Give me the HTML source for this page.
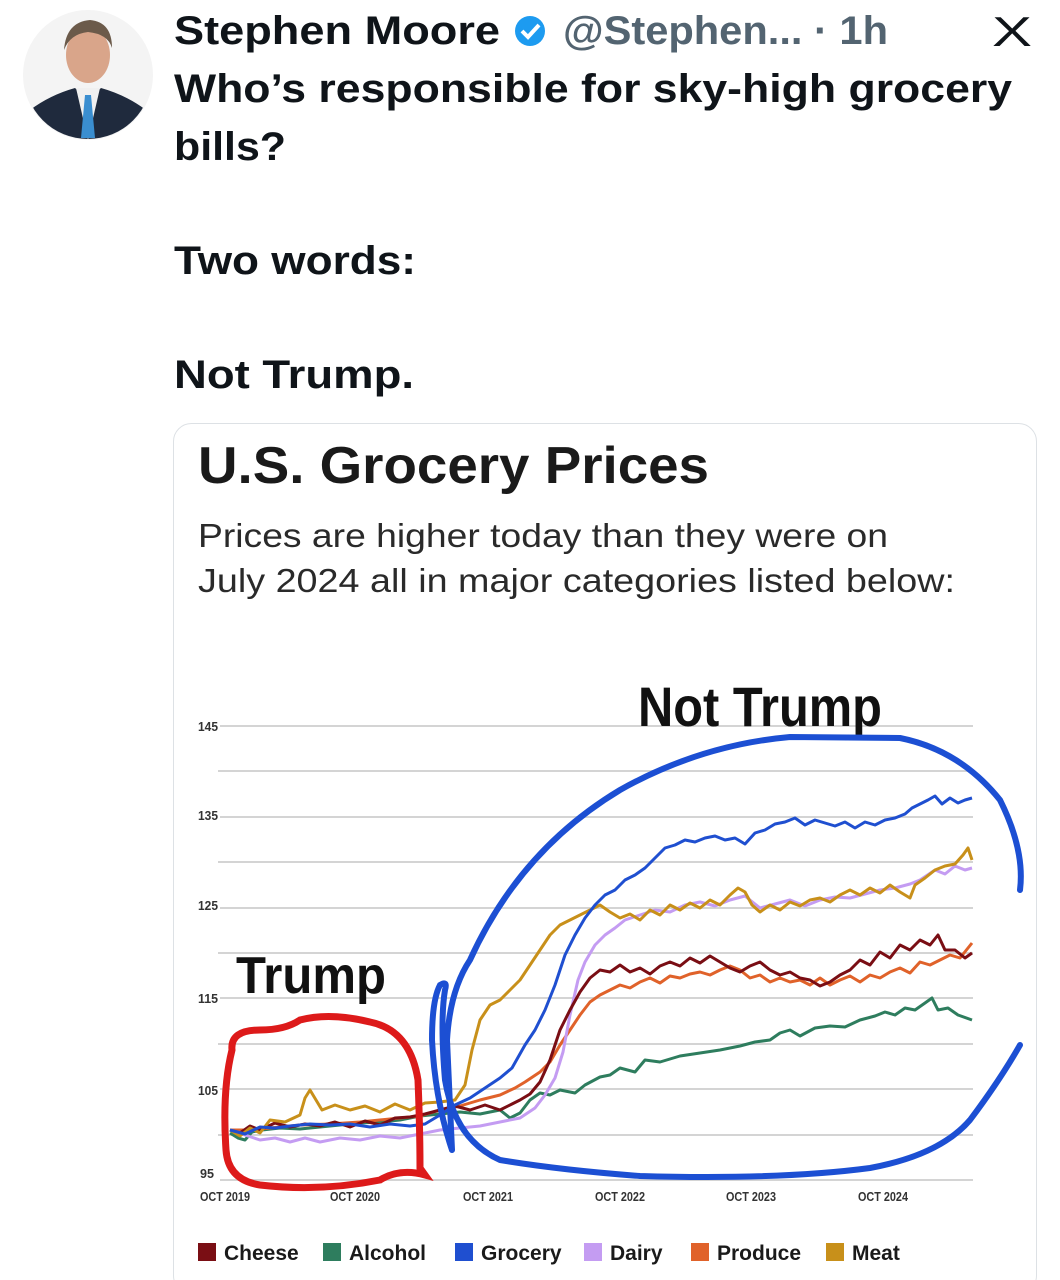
<!DOCTYPE html>
<html><head><meta charset="utf-8"><style>
html,body{margin:0;padding:0;background:#fff;}
svg{display:block;font-family:"Liberation Sans",sans-serif;}
</style></head><body>
<svg width="1060" height="1280" viewBox="0 0 1060 1280" xmlns="http://www.w3.org/2000/svg">
<rect width="1060" height="1280" fill="#fff"/>
<circle cx="88" cy="75" r="65" fill="#f4f4f4"/>
<clipPath id="av"><circle cx="88" cy="75" r="64"/></clipPath>
<g clip-path="url(#av)">
<path d="M22 140 L30 110 Q50 95 75 88 L88 100 L101 88 Q126 95 146 110 L154 140Z" fill="#1f2a3d"/>
<path d="M76 88 L88 140 L100 88Z" fill="#f0f0f0"/>
<path d="M85 95 L91 95 L95 138 L81 138Z" fill="#3a8ed0"/>
<ellipse cx="88" cy="55" rx="22" ry="28" fill="#d9a58a"/>
<path d="M64 50 Q66 22 90 20 Q112 22 112 48 Q108 34 88 32 Q70 34 64 50Z" fill="#6b5a4a"/>
</g>
<text x="174" y="44" font-size="40" font-weight="bold" fill="#0f1419" textLength="326" lengthAdjust="spacingAndGlyphs">Stephen Moore</text>
<circle cx="530" cy="31" r="15" fill="#1d9bf0"/>
<path d="M522 31 L528 37 L539 25" stroke="#fff" stroke-width="4" fill="none"/>
<text x="563" y="44" font-size="40" font-weight="bold" fill="#536471" textLength="325" lengthAdjust="spacingAndGlyphs">@Stephen... · 1h</text>
<text x="992" y="46" font-size="42" fill="#0f1419" textLength="40" lengthAdjust="spacingAndGlyphs">X</text>
<g font-size="40" font-weight="bold" fill="#0f1419">
<text x="174" y="102" textLength="838" lengthAdjust="spacingAndGlyphs">Who’s responsible for sky-high grocery</text>
<text x="174" y="160" textLength="112" lengthAdjust="spacingAndGlyphs">bills?</text>
<text x="174" y="274" textLength="242" lengthAdjust="spacingAndGlyphs">Two words:</text>
<text x="174" y="388" textLength="240" lengthAdjust="spacingAndGlyphs">Not Trump.</text>
</g>
<rect x="173.5" y="423.5" width="863" height="870" rx="18" fill="#fff" stroke="#dde1e5"/>
<text x="198" y="483" font-size="52" font-weight="bold" fill="#1a1a1a" textLength="511" lengthAdjust="spacingAndGlyphs">U.S. Grocery Prices</text>
<text x="198" y="547" font-size="33" fill="#2a2a2a" textLength="690" lengthAdjust="spacingAndGlyphs">Prices are higher today than they were on</text>
<text x="198" y="592" font-size="33" fill="#2a2a2a" textLength="757" lengthAdjust="spacingAndGlyphs">July 2024 all in major categories listed below:</text>
<g stroke="#d4d4d4" stroke-width="2">
<line x1="220" x2="973" y1="726" y2="726"/><line x1="218" x2="973" y1="771" y2="771"/>
<line x1="220" x2="973" y1="817" y2="817"/><line x1="218" x2="973" y1="862" y2="862"/>
<line x1="220" x2="973" y1="908" y2="908"/><line x1="218" x2="973" y1="953" y2="953"/>
<line x1="220" x2="973" y1="998" y2="998"/><line x1="218" x2="973" y1="1044" y2="1044"/>
<line x1="220" x2="973" y1="1089" y2="1089"/><line x1="218" x2="973" y1="1135" y2="1135"/>
<line x1="220" x2="973" y1="1180" y2="1180"/>
</g>
<g font-size="13" font-weight="bold" fill="#333">
<text x="198" y="731" textLength="20" lengthAdjust="spacingAndGlyphs">145</text>
<text x="198" y="820" textLength="20" lengthAdjust="spacingAndGlyphs">135</text>
<text x="198" y="910" textLength="20" lengthAdjust="spacingAndGlyphs">125</text>
<text x="198" y="1003" textLength="20" lengthAdjust="spacingAndGlyphs">115</text>
<text x="198" y="1095" textLength="20" lengthAdjust="spacingAndGlyphs">105</text>
<text x="200" y="1178" textLength="14" lengthAdjust="spacingAndGlyphs">95</text>
</g>
<g font-size="13" font-weight="bold" fill="#333" text-anchor="middle">
<text x="225" y="1201" textLength="50" lengthAdjust="spacingAndGlyphs">OCT 2019</text><text x="355" y="1201" textLength="50" lengthAdjust="spacingAndGlyphs">OCT 2020</text><text x="488" y="1201" textLength="50" lengthAdjust="spacingAndGlyphs">OCT 2021</text>
<text x="620" y="1201" textLength="50" lengthAdjust="spacingAndGlyphs">OCT 2022</text><text x="751" y="1201" textLength="50" lengthAdjust="spacingAndGlyphs">OCT 2023</text><text x="883" y="1201" textLength="50" lengthAdjust="spacingAndGlyphs">OCT 2024</text>
</g>
<g fill="none" stroke-width="3" stroke-linejoin="round">
<polyline stroke="#2e7d5e" points="230,1133 238,1138 245,1140 252,1132 262,1130 280,1128 300,1129 320,1127 340,1125 360,1123 380,1122 400,1120 420,1116 440,1114 460,1112 480,1114 500,1110 510,1118 520,1113 530,1100 540,1093 550,1095 560,1090 575,1093 585,1085 600,1077 610,1075 620,1068 635,1072 645,1060 660,1062 680,1056 700,1053 720,1050 740,1046 755,1042 770,1040 780,1033 790,1030 800,1036 815,1028 830,1026 845,1027 860,1020 875,1016 885,1012 895,1015 905,1008 915,1010 925,1003 932,998 938,1010 948,1008 958,1015 972,1020"/>
<polyline stroke="#e0622a" points="230,1130 250,1130 270,1128 300,1125 330,1124 360,1122 400,1118 420,1116 440,1110 460,1106 480,1100 500,1095 515,1088 525,1082 540,1072 550,1062 560,1045 570,1030 580,1015 590,1002 600,995 610,990 620,985 630,988 640,982 650,978 660,983 670,976 680,978 690,974 700,972 710,975 720,970 730,966 740,970 750,978 760,975 770,982 780,978 790,982 800,980 810,985 820,978 830,985 840,980 850,976 860,982 870,975 880,978 890,972 900,968 910,973 920,962 930,965 940,960 950,955 960,958 972,943"/>
<polyline stroke="#c49cf2" points="230,1130 245,1135 260,1140 275,1138 290,1142 305,1138 320,1142 340,1138 360,1140 380,1136 400,1138 420,1134 440,1130 460,1128 480,1126 500,1122 520,1118 535,1108 545,1095 555,1078 563,1052 570,1015 578,980 585,962 595,945 605,935 615,928 625,920 640,915 655,910 670,912 685,905 700,902 715,906 730,900 745,896 760,908 775,904 790,900 805,906 820,900 835,897 850,898 865,894 880,890 895,888 910,884 920,880 935,870 945,874 955,866 965,870 972,868"/>
<polyline stroke="#7a0e14" points="230,1130 240,1133 250,1126 260,1130 275,1123 290,1127 305,1124 320,1126 335,1122 350,1127 365,1121 380,1125 395,1118 410,1117 425,1114 440,1110 455,1106 470,1110 485,1105 500,1110 512,1104 520,1100 530,1094 540,1082 550,1060 560,1030 570,1010 580,992 590,978 600,970 610,972 620,965 630,972 640,968 650,974 660,966 670,962 680,966 690,958 700,963 710,956 720,962 730,968 740,972 750,966 760,962 770,970 780,975 790,972 800,978 810,980 820,986 830,982 840,975 850,970 860,960 870,965 880,952 890,958 900,945 910,950 920,940 930,945 938,935 945,950 955,950 965,958 972,953"/>
<polyline stroke="#c8901a" points="230,1130 240,1136 250,1128 260,1133 270,1120 285,1122 300,1115 305,1098 310,1090 316,1100 322,1110 335,1105 350,1110 365,1106 380,1112 395,1104 410,1110 425,1103 440,1102 455,1100 465,1085 472,1050 480,1020 490,1005 500,1000 510,990 520,980 530,965 540,950 550,935 560,925 570,920 580,915 590,910 600,905 610,912 620,918 630,914 640,920 650,910 660,915 670,905 680,910 690,903 700,908 710,900 720,905 730,895 738,888 745,892 752,905 760,912 770,905 780,910 790,902 800,906 810,900 820,898 830,902 840,895 850,890 860,895 870,888 880,893 890,885 900,892 910,898 915,885 925,878 935,870 945,866 955,864 963,855 968,848 972,860"/>
<polyline stroke="#1f4fd0" points="230,1130 245,1134 260,1127 275,1128 290,1126 310,1124 330,1125 350,1124 370,1127 390,1124 410,1126 425,1124 440,1115 455,1105 470,1098 485,1088 500,1078 512,1068 525,1045 535,1030 545,1010 555,985 565,955 575,935 585,918 595,905 605,895 615,890 625,880 635,875 645,868 655,858 665,848 675,845 685,840 695,842 705,838 715,836 725,840 735,838 745,844 755,833 765,830 775,824 785,822 795,818 805,825 815,820 825,823 835,826 845,822 855,828 865,822 875,825 885,820 895,818 905,814 912,808 920,804 928,800 935,796 942,804 950,798 958,803 965,800 972,798"/>
</g>
<text x="638" y="726" font-size="56" font-weight="bold" fill="#111" textLength="244" lengthAdjust="spacingAndGlyphs">Not Trump</text>
<text x="236" y="993" font-size="52" font-weight="bold" fill="#111" textLength="150" lengthAdjust="spacingAndGlyphs">Trump</text>
<path d="M232 1050 Q230 1030 260 1030 Q285 1030 300 1020 Q330 1012 370 1022 Q410 1030 418 1080 Q420 1130 420 1168 L425 1175 Q400 1168 380 1180 Q320 1192 260 1185 Q228 1180 226 1150 Q222 1090 232 1050Z" fill="none" stroke="#dd1a1a" stroke-width="7"/>
<path d="M452 1150 L447 1040 Q450 990 470 960 Q520 850 620 790 Q700 745 790 737 L900 738 Q960 750 1000 800 Q1025 850 1020 890 M1020 1045 Q1000 1080 970 1120 Q940 1155 870 1168 Q780 1180 640 1176 Q560 1170 500 1160 Q455 1140 445 1080 Q440 1020 445 990 Q448 980 440 985 Q432 1000 432 1040 Q435 1100 452 1150" fill="none" stroke="#1c4fd3" stroke-width="6" stroke-linecap="round"/>
<g font-size="21" font-weight="bold" fill="#1a1a1a">
<rect x="198" y="1243" width="18" height="18" fill="#7a0e14"/><text x="224" y="1260">Cheese</text>
<rect x="323" y="1243" width="18" height="18" fill="#2e7d5e"/><text x="349" y="1260">Alcohol</text>
<rect x="455" y="1243" width="18" height="18" fill="#1f4fd0"/><text x="481" y="1260">Grocery</text>
<rect x="584" y="1243" width="18" height="18" fill="#c49cf2"/><text x="610" y="1260">Dairy</text>
<rect x="691" y="1243" width="18" height="18" fill="#e0622a"/><text x="717" y="1260">Produce</text>
<rect x="826" y="1243" width="18" height="18" fill="#c8901a"/><text x="852" y="1260">Meat</text>
</g>
</svg>
</body></html>
